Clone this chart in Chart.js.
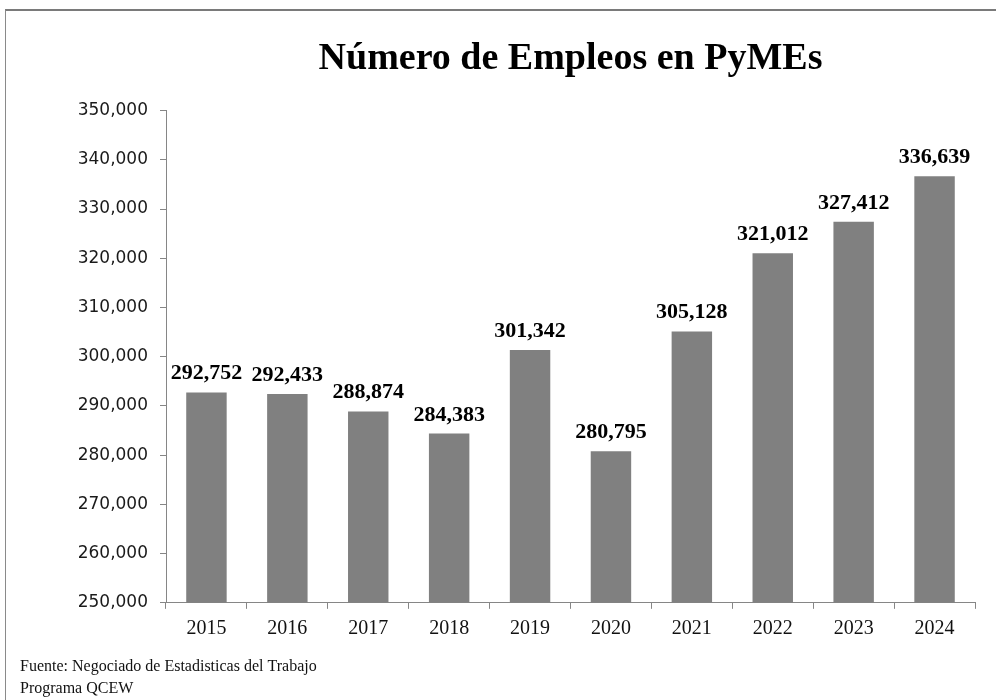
<!DOCTYPE html>
<html>
<head>
<meta charset="utf-8">
<script src="https://cdn.jsdelivr.net/npm/chart.js@4"></script>
<style>
    body { margin: 0; background: #fff; }
    #frame {
        position: absolute; left: 5px; top: 9px; width: 991px; height: 691px;
        border-top: 2px solid #7a7a7a; border-left: 1px solid #8a8a8a;
    }
    #wrap { position: absolute; left: 0; top: 0; width: 996px; height: 700px; }
</style>
</head>
<body>
<div id="frame"></div>
<div id="wrap"><canvas id="myChart"></canvas></div>
<script>
// datos del grafico
const years = ['2015', '2016', '2017', '2018', '2019', '2020', '2021', '2022', '2023', '2024'];
const empleos = [292752, 292433, 288874, 284383, 301342, 280795, 305128, 321012, 327412, 336639];
const yMin = 250000;
const yMax = 350000;
const yStep = 10000;

const fmt = (v) => v.toLocaleString('en-US');

// etiquetas encima de cada barra
const barLabels = {
    id: 'barLabels',
    afterDatasetsDraw(chart) {
        const ctx = chart.ctx;
        ctx.save();
        ctx.font = 'bold 22px "Liberation Serif"';
        ctx.fillStyle = '#000';
        ctx.textAlign = 'center';
        ctx.textBaseline = 'alphabetic';
        chart.getDatasetMeta(0).data.forEach((bar, i) => {
            ctx.fillText(fmt(empleos[i]), bar.x, bar.y - 13);
        });
        ctx.restore();
    }
};

const ctx = document.querySelector('#myChart');
const myChart = new Chart(ctx, {
    type: 'bar',
    data: {
        labels: years,
        datasets: [{
            data: empleos,
            backgroundColor: '#808080',
            barPercentage: 0.5,
            categoryPercentage: 1
        }]
    },
    options: {
        responsive: true,
        maintainAspectRatio: false,
        animation: false,
        layout: { padding: { left: 20, right: 21, top: 0, bottom: 0 } },
        scales: {
            x: {
                grid: { drawOnChartArea: false, tickLength: 6, color: '#868686' },
                border: { color: '#868686' },
                ticks: { color: '#111', padding: 8, font: { family: 'Liberation Serif', size: 20 } },
                afterFit: (s) => { s.height = 53; }
            },
            y: {
                min: yMin,
                max: yMax,
                grid: { drawOnChartArea: false, tickLength: 6, color: '#868686' },
                border: { color: '#868686' },
                ticks: {
                    stepSize: yStep,
                    color: '#1a1a1a',
                    padding: 12,
                    font: { family: 'DejaVu Sans', size: 17 },
                    callback: (v) => fmt(v)
                },
                afterFit: (s) => { s.width = 146; }
            }
        },
        plugins: {
            legend: { display: false },
            tooltip: { enabled: false },
            title: {
                display: true,
                text: 'Número de Empleos en PyMEs',
                fullSize: false,
                color: '#000',
                font: { family: 'Liberation Serif', size: 38, weight: 'bold' },
                padding: { top: 36, bottom: 29 }
            },
            subtitle: {
                display: true,
                position: 'bottom',
                align: 'start',
                text: ['Fuente: Negociado de Estadisticas del Trabajo', 'Programa QCEW'],
                color: '#111',
                font: { family: 'Liberation Serif', size: 16, lineHeight: 1.38 },
                padding: { top: 0, bottom: 0 }
            }
        }
    },
    plugins: [barLabels]
});
</script>
</body>
</html>
